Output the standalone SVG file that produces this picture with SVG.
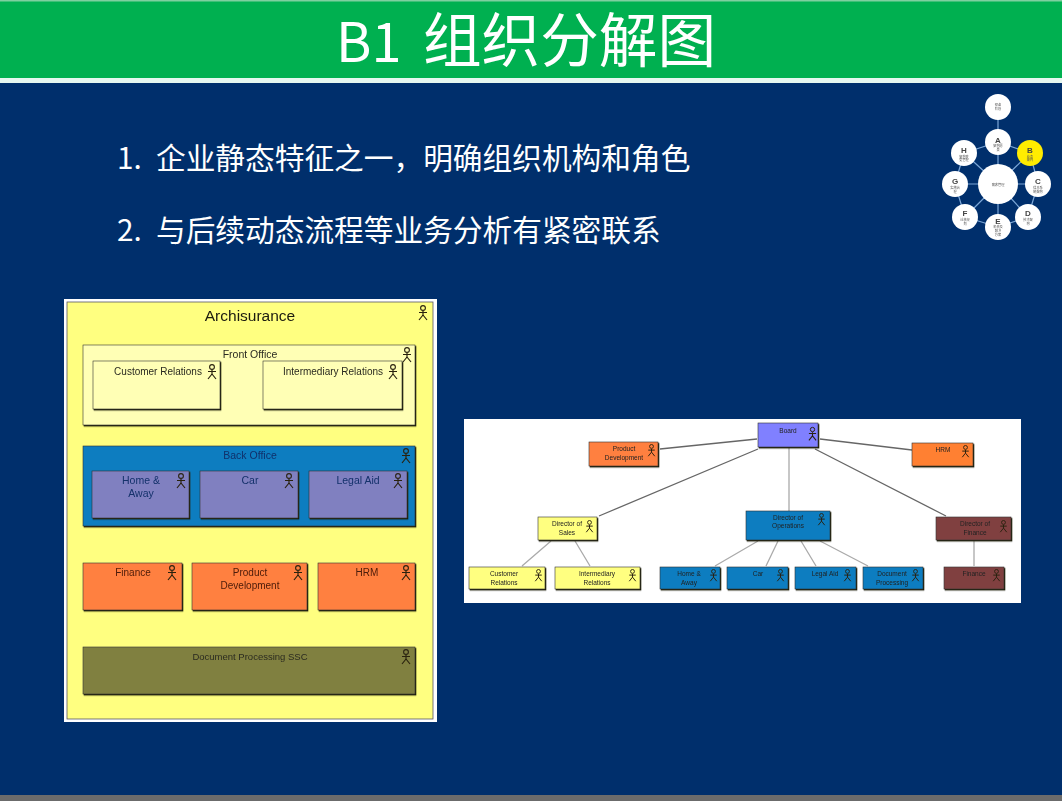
<svg xmlns="http://www.w3.org/2000/svg" width="1062" height="801" viewBox="0 0 1062 801">
<style>
.cjk{font-family:"Noto Sans CJK SC","Liberation Sans",sans-serif;fill:#fff}
.l{font-family:"Liberation Sans",Arial,sans-serif;font-size:10.5px;fill:#2a2a20;text-anchor:middle}
.n{font-size:10px}
.navy{fill:#13306a}
.brown{fill:#4a1a08}
.s{font-family:"Liberation Sans",Arial,sans-serif;font-size:6.5px;fill:#222;text-anchor:middle}
.box{stroke:#333;stroke-width:.6;filter:url(#sh)}
.link{stroke:#666;stroke-width:1.3;fill:none}
.light{stroke:#aaa}
.spoke{stroke:#7ba6d6;stroke-width:1.2}
.c{fill:#fff}
.t{font-family:"Noto Sans CJK SC",sans-serif;font-size:3.2px;fill:#555;text-anchor:middle}
.k{font-family:"Liberation Sans",sans-serif;font-size:8px;fill:#444;text-anchor:middle;font-weight:bold}
</style>
<defs>
<filter id="sh" x="-5%" y="-5%" width="110%" height="115%"><feDropShadow dx="1" dy="1.2" stdDeviation=".3" flood-color="#1c1c00"/></filter>
<filter id="soft" x="-2%" y="-2%" width="104%" height="104%"><feGaussianBlur stdDeviation=".35"/></filter>
<filter id="softer" x="-2%" y="-2%" width="104%" height="104%"><feGaussianBlur stdDeviation=".5"/></filter>
<symbol id="actor" viewBox="0 0 10 16"><path d="M5 6V10M1 7.5H9M5 10L1 15M5 10L9 15" fill="none" stroke="#2a2210" stroke-width="1.2"/><circle cx="5" cy="3" r="2.4" fill="none" stroke="#2a2210" stroke-width="1.1"/></symbol>
</defs>

<rect width="1062" height="801" fill="#002f6c"/>
<rect y="795" width="1062" height="6" fill="#6b6b6b"/>
<g id="header">
<rect width="1062" height="78" fill="#00b050"/>
<rect width="1062" height="1.500" fill="#7fcf9f"/>
<rect y="78" width="1062" height="5" fill="#e6f7f0"/>
<text class="cjk" x="336" y="62" font-size="54">B1</text>
<text class="cjk" x="423" y="62" font-size="58.600">组织分解图</text>
</g>
<g id="bullets">
<text class="cjk" x="117" y="169" font-size="29.700">1.<tspan x="156">企业静态特征之一，明确组织机构和角色</tspan></text>
<text class="cjk" x="117" y="241" font-size="29.700">2.<tspan x="156">与后续动态流程等业务分析有紧密联系</tspan></text>
</g>

<g id="adm-badge" filter="url(#soft)">
<path class="spoke" d="M998 107V184M998 184L964 153M998 184L1030 153M998 184H955M998 184H1038M998 184L965 217M998 184L1028 217M998 184V227M998 142L964 153M998 142L1030 153M964 153L955 184M1030 153L1038 184M955 184L965 217M1038 184L1028 217M965 217L998 227M1028 217L998 227" fill="none"/>
<g id="adm-top"><circle class="c" cx="998" cy="107" r="13"/><text class="t" x="998" y="106">预备</text><text class="t" x="998" y="110">阶段</text></g>
<g id="adm-a"><circle class="c" cx="998" cy="142" r="13"/><text class="k" x="998" y="143">A</text><text class="t" x="998" y="147">架构愿</text><text class="t" x="998" y="151">景</text></g>
<g id="adm-h"><circle class="c" cx="964" cy="153" r="13"/><text class="k" x="964" y="153">H</text><text class="t" x="964" y="157.500">架构变</text><text class="t" x="964" y="161">更管理</text></g>
<g id="adm-b"><circle cx="1030" cy="153" r="13" fill="#ffec00"/><text class="k" x="1030" y="153">B</text><text class="t" x="1030" y="157.500">业务</text><text class="t" x="1030" y="161">架构</text></g>
<g id="adm-g"><circle class="c" cx="955" cy="184" r="13"/><text class="k" x="955" y="184">G</text><text class="t" x="955" y="189">实施治</text><text class="t" x="955" y="193">理</text></g>
<g id="adm-c"><circle class="c" cx="1038" cy="184" r="13"/><text class="k" x="1038" y="184">C</text><text class="t" x="1038" y="189">信息系</text><text class="t" x="1038" y="193">统架构</text></g>
<g id="adm-f"><circle class="c" cx="965" cy="217" r="13"/><text class="k" x="965" y="216">F</text><text class="t" x="965" y="220.500">迁移规</text><text class="t" x="965" y="224.500">划</text></g>
<g id="adm-d"><circle class="c" cx="1028" cy="217" r="13"/><text class="k" x="1028" y="216">D</text><text class="t" x="1028" y="220.500">技术架</text><text class="t" x="1028" y="224.500">构</text></g>
<g id="adm-e"><circle class="c" cx="998" cy="227" r="13"/><text class="k" x="998" y="224">E</text><text class="t" x="998" y="228">机会及</text><text class="t" x="998" y="232">解决</text><text class="t" x="998" y="236">方案</text></g>
<g id="adm-center"><circle class="c" cx="998" cy="184" r="20"/><text class="t" x="998" y="185.500" font-size="4">需求管理</text></g>
</g>

<g id="left-diagram" filter="url(#soft)">
<g id="archisurance">
<rect x="64" y="299" width="373" height="423" fill="#fff"/>
<rect x="67" y="302" width="366" height="417" fill="#ffff80" stroke="#556" stroke-width=".8"/>
<text x="250" y="321" text-anchor="middle" font-family="Liberation Sans,Arial,sans-serif" font-size="15.500" fill="#1a1a10">Archisurance</text>
<use href="#actor" x="418" y="305" width="10" height="16"/>
</g>
<g id="front-office"><rect class="box" x="83" y="345" width="332" height="80" fill="#ffffb5"/><text class="l" x="250" y="358">Front Office</text><use href="#actor" x="402" y="347" width="10" height="16"/></g>
<g id="customer-relations"><rect class="box" x="93" y="361" width="127" height="48" fill="#ffffb5"/><text class="l n" x="158" y="375">Customer Relations</text><use href="#actor" x="207" y="364" width="10" height="16"/></g>
<g id="intermediary-relations"><rect class="box" x="263" y="361" width="139" height="48" fill="#ffffb5"/><text class="l n" x="333" y="375">Intermediary Relations</text><use href="#actor" x="388" y="364" width="10" height="16"/></g>
<g id="back-office"><rect class="box" x="83" y="446" width="332" height="80" fill="#0a7dc0"/><text class="l navy" x="250" y="459">Back Office</text><use href="#actor" x="401" y="448" width="10" height="16"/></g>
<g id="home-away"><rect class="box" x="92" y="471" width="97" height="47" fill="#8080c0"/><text class="l navy" x="141" y="484">Home &amp;</text><text class="l navy" x="141" y="497">Away</text><use href="#actor" x="176" y="473" width="10" height="16"/></g>
<g id="car"><rect class="box" x="200" y="471" width="98" height="47" fill="#8080c0"/><text class="l navy" x="250" y="484">Car</text><use href="#actor" x="284" y="473" width="10" height="16"/></g>
<g id="legal-aid"><rect class="box" x="309" y="471" width="98" height="47" fill="#8080c0"/><text class="l navy" x="358" y="484">Legal Aid</text><use href="#actor" x="393" y="473" width="10" height="16"/></g>
<g id="finance"><rect class="box" x="83" y="563" width="99" height="47" fill="#ff8040"/><text class="l n brown" x="133" y="576">Finance</text><use href="#actor" x="167" y="565" width="10" height="16"/></g>
<g id="product-development"><rect class="box" x="192" y="563" width="115" height="47" fill="#ff8040"/><text class="l n brown" x="250" y="576">Product</text><text class="l n brown" x="250" y="589">Development</text><use href="#actor" x="293" y="565" width="10" height="16"/></g>
<g id="hrm"><rect class="box" x="318" y="563" width="97" height="47" fill="#ff8040"/><text class="l n brown" x="367" y="576">HRM</text><use href="#actor" x="401" y="565" width="10" height="16"/></g>
<g id="document-processing-ssc"><rect class="box" x="83" y="647" width="332" height="47" fill="#808040"/><text class="l" font-size="9.500" style="font-size:9.500px" x="250" y="660">Document Processing SSC</text><use href="#actor" x="401" y="649" width="10" height="16"/></g>
</g>

<g id="right-diagram" filter="url(#softer)">
<rect x="464" y="419" width="557" height="184" fill="#fff"/>
<g id="connectors">
<path class="link" d="M660 449L757 439M599 516L758 449M820 439L912 450M815 449L946 516"/>
<path class="link light" d="M789 448V511M974 541V566M551 541L522 566M575 541L590 566M758 541L715 566M778 541L766 566M801 541L816 566M820 541L868 566"/>
</g>
<g id="o-board"><rect class="box" x="758" y="423" width="60" height="24" fill="#8080ff"/><text class="s" x="788" y="433">Board</text><use href="#actor" x="808" y="425" width="9" height="18"/></g>
<g id="o-product"><rect class="box" x="589" y="442" width="69" height="24" fill="#ff8040"/><text class="s" x="624" y="451">Product</text><text class="s" x="624" y="459.500">Development</text><use href="#actor" x="647" y="444" width="9" height="13"/></g>
<g id="o-hrm"><rect class="box" x="912" y="443" width="61" height="23" fill="#ff8030"/><text class="s" x="943" y="452">HRM</text><use href="#actor" x="961" y="445" width="9" height="13"/></g>
<g id="o-sales"><rect class="box" x="538" y="517" width="59" height="23" fill="#ffff80"/><text class="s" x="567" y="526">Director of</text><text class="s" x="567" y="534.500">Sales</text><use href="#actor" x="585" y="520" width="9" height="13"/></g>
<g id="o-ops"><rect class="box" x="746" y="511" width="84" height="29" fill="#0a7dc0"/><text class="s" x="788" y="520">Director of</text><text class="s" x="788" y="528">Operations</text><use href="#actor" x="817" y="513" width="9" height="13"/></g>
<g id="o-findir"><rect class="box" x="936" y="517" width="75" height="23" fill="#804040"/><text class="s" x="975" y="526">Director of</text><text class="s" x="975" y="534.500">Finance</text><use href="#actor" x="999" y="520" width="9" height="13"/></g>
<g id="o-customer"><rect class="box" x="469" y="567" width="76" height="22" fill="#ffff80"/><text class="s" x="504" y="576">Customer</text><text class="s" x="504" y="584.500">Relations</text><use href="#actor" x="534" y="569" width="9" height="13"/></g>
<g id="o-intermediary"><rect class="box" x="555" y="567" width="85" height="22" fill="#ffff80"/><text class="s" x="597" y="576">Intermediary</text><text class="s" x="597" y="584.500">Relations</text><use href="#actor" x="628" y="569" width="9" height="13"/></g>
<g id="o-home"><rect class="box" x="660" y="567" width="60" height="22" fill="#0a7dc0"/><text class="s" x="689" y="576">Home &amp;</text><text class="s" x="689" y="584.500">Away</text><use href="#actor" x="709" y="569" width="9" height="13"/></g>
<g id="o-car"><rect class="box" x="727" y="567" width="61" height="22" fill="#0a7dc0"/><text class="s" x="758" y="576">Car</text><use href="#actor" x="776" y="569" width="9" height="13"/></g>
<g id="o-legal"><rect class="box" x="795" y="567" width="61" height="22" fill="#0a7dc0"/><text class="s" x="825" y="576">Legal Aid</text><use href="#actor" x="843" y="569" width="9" height="13"/></g>
<g id="o-doc"><rect class="box" x="863" y="567" width="60" height="22" fill="#0a7dc0"/><text class="s" x="892" y="576">Document</text><text class="s" x="892" y="584.500">Processing</text><use href="#actor" x="911" y="569" width="9" height="13"/></g>
<g id="o-finance"><rect class="box" x="944" y="567" width="60" height="22" fill="#804040"/><text class="s" x="974" y="576">Finance</text><use href="#actor" x="992" y="569" width="9" height="13"/></g>
</g>
</svg>
